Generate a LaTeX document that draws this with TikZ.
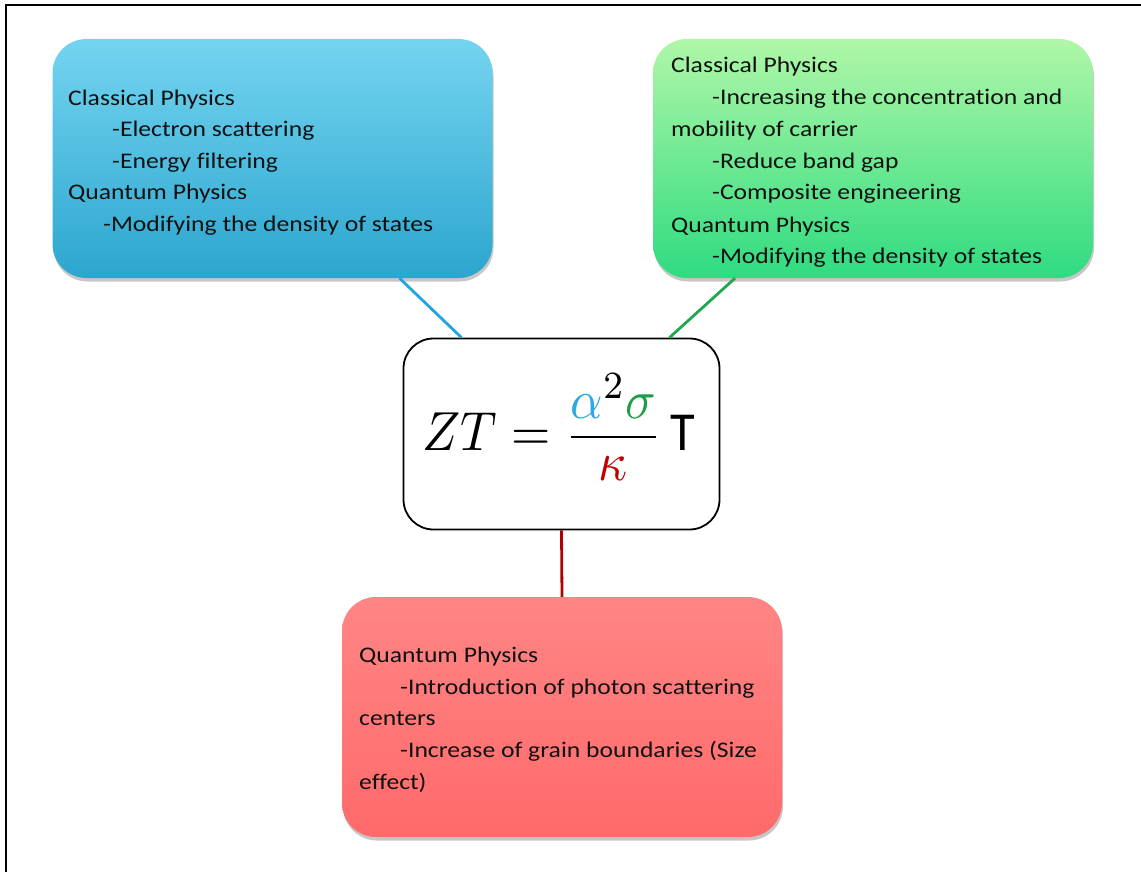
\documentclass[tikz,border=0pt]{standalone}
\usepackage{fontspec}
\setmainfont{Carlito}[FakeStretch=1.15, Ligatures=NoCommon]
\newfontfamily\plainsans{Carlito}
\usetikzlibrary{shadows,calc}
\definecolor{blueA}{HTML}{74D4F0}
\definecolor{blueB}{HTML}{2CA6CF}
\definecolor{greenA}{HTML}{B0F7A8}
\definecolor{greenB}{HTML}{2FDB80}
\definecolor{redA}{HTML}{FF8585}
\definecolor{redB}{HTML}{FF6A6A}
\definecolor{lnblue}{HTML}{1FA6E0}
\definecolor{lngreen}{HTML}{1FA850}
\definecolor{lnred}{HTML}{B00000}
\definecolor{malpha}{HTML}{2EA8E0}
\definecolor{msigma}{HTML}{1E9E4A}
\definecolor{mkappa}{HTML}{C00000}
\definecolor{txt}{HTML}{111111}
\tikzset{
  colbox/.style={rounded corners=34pt, inner sep=0pt, draw=none,
    drop shadow={shadow xshift=1pt, shadow yshift=-3.5pt, opacity=0.22, fill=black}},
  ln/.style={anchor=base west, inner sep=0pt, font=\fontsize{22.3}{26}\selectfont, text=txt},
  conn/.style={line width=2.8pt},
}
\begin{document}
\begin{tikzpicture}[x=1pt,y=-1pt]
\useasboundingbox (0,0) rectangle (1141,872);
\fill[white] (0,0) rectangle (1141,872);
\draw[line width=2pt] (6,872) -- (6,5) -- (1141,5);

% boxes
\node[colbox, top color=blueA, bottom color=blueB, minimum width=440pt, minimum height=239pt] (blue) at (272.5,158.5) {};
\node[colbox, top color=greenA, bottom color=greenB, minimum width=440pt, minimum height=239pt] (green) at (873,158.5) {};
\node[colbox, top color=redA, bottom color=redB, minimum width=440pt, minimum height=240pt] (red) at (562,717) {};
\node[rounded corners=30pt, draw=black, line width=1.8pt, fill=white, minimum width=316pt, minimum height=191pt, inner sep=0pt] (zt) at (561.5,434) {};

% connectors
\draw[conn, lnblue] ([xshift=127pt]blue.south) -- ([xshift=-100pt]zt.north);
\draw[conn, lngreen] ([xshift=-138pt]green.south) -- ([xshift=108pt]zt.north);
\draw[conn, lnred] (zt.south) -- (red.north);

% formula
\node[inner sep=0pt] (f) at (559,431) {\scalebox{5.05}[5.5]{$\displaystyle ZT=\frac{\raisebox{-0.9pt}{${\color{malpha}\alpha}^{2}{\color{msigma}\sigma}$}}{\raisebox{1.4pt}{${\color{mkappa}\kappa}$}}$\,{\plainsans T}}};

% blue text
\node[ln] (b1) at (68,106) {Classical Physics};
\node[ln] (b2) at (112,137) {-Electron scattering};
\node[ln] (b3) at (112,168) {-Energy filtering};
\node[ln] (b4) at (68,200) {Quantum Physics};
\node[ln] (b5) at (103,231) {-Modifying the density of states};

% green text
\node[ln] (g1) at (671,73) {Classical Physics};
\node[ln] (g2) at (712,105) {-Increasing the concentration and};
\node[ln] (g3) at (671,137) {mobility of carrier};
\node[ln] (g4) at (712,168) {-Reduce band gap};
\node[ln] (g5) at (712,200) {-Composite engineering};
\node[ln] (g6) at (671,232) {Quantum Physics};
\node[ln] (g7) at (712,263) {-Modifying the density of states};

% red text
\node[ln] (r1) at (359,662) {Quantum Physics};
\node[ln] (r2) at (400,694) {-Introduction of photon scattering};
\node[ln] (r3) at (359,725) {centers};
\node[ln] (r4) at (400,757) {-Increase of grain boundaries (Size};
\node[ln] (r5) at (359,789) {effect)};
\end{tikzpicture}
\end{document}
